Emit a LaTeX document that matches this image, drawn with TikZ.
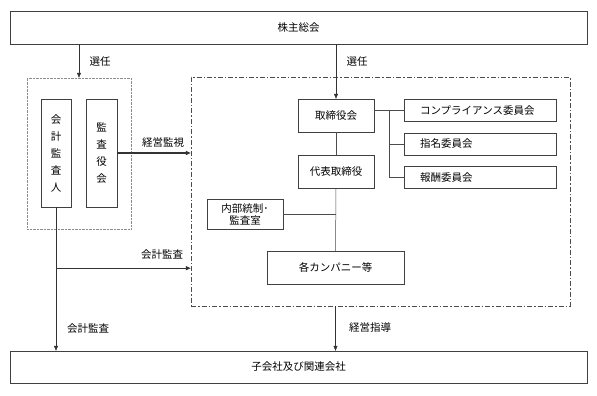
\documentclass[tikz,border=0pt]{standalone}
\usepackage{fontspec}
\setmainfont{Noto Sans CJK JP}
\usetikzlibrary{arrows.meta, positioning, calc}
\tikzset{
  org_box/.style={rectangle, draw=black!75, fill=white, inner sep=0pt, font=\fontsize{10.5}{12}\selectfont},
  wide_box/.style={org_box, minimum width=577pt},
  board_box/.style={org_box, minimum width=76pt, minimum height=33pt},
  committee_box/.style={org_box, minimum height=22pt, text width=120pt, inner xsep=16pt, align=left},
  column_box/.style={org_box, minimum height=108pt, align=center, font=\fontsize{10.5}{17}\selectfont},
  audit_frame/.style={rectangle, draw=black!45, densely dotted, inner sep=0pt},
  mgmt_frame_style/.style={rectangle, draw=black!70, dash pattern=on 5pt off 2pt on 1.5pt off 2pt, inner sep=0pt},
  label_text/.style={font=\fontsize{10.5}{12}\selectfont, inner sep=1pt},
  arrow/.style={-{Triangle[length=5pt, width=4pt]}, black!80, line width=0.5pt},
  thick_arrow/.style={arrow, line width=1.1pt},
  connect/.style={-, black!70, line width=0.5pt}
}

\begin{document}
\begin{tikzpicture}[x=1pt, y=-1pt]
  \useasboundingbox (0,0) rectangle (597,396);

  % --- 1. Top and bottom bars ---
  \node[wide_box, minimum height=33pt] (meeting) at (298.5,27.5) {株主総会};
  \node[wide_box, minimum height=32pt] (subsidiaries) at (298.5,367) {子会社及び関連会社};

  % --- 2. Audit side (left) ---
  \node[audit_frame, minimum width=104pt, minimum height=151pt] (audit_group) at (79,153.5) {};
  \node[column_box, minimum width=30pt] (auditor) at (56,153) {会\\計\\監\\査\\人};
  \node[column_box, minimum width=31pt] (kansayaku) at (101.5,153) {監\\査\\役\\会};

  % --- 3. Management frame (right) ---
  \node[mgmt_frame_style, minimum width=379pt, minimum height=229pt] (mgmt_frame) at (380.5,191.5) {};
  \node[board_box] (board) at (336,115.5) {取締役会};
  \node[board_box, below=23pt of board] (ceo) {代表取締役};
  \node[committee_box] (compliance) at (480,110.5) {コンプライアンス委員会};
  \node[committee_box, below=11pt of compliance] (nomination) {指名委員会};
  \node[committee_box, below=11pt of nomination] (remuneration) {報酬委員会};
  \node[org_box, minimum width=76pt, minimum height=30pt, align=center] (internal) at (245,214) {内部統制･\\監査室};
  \node[org_box, minimum width=137pt, minimum height=33pt] (companies) at (335.5,267.5) {各カンパニー等};

  % --- 4. Lines inside the frame ---
  \draw[connect] (board.south) -- (ceo.north);
  \draw[connect] (ceo.south) -- (companies.north);
  \draw[connect] (internal.east) -- (internal.east -| ceo.south);
  \draw[connect] (board.east |- compliance.west) -- (compliance.west);
  \coordinate (branch) at ($(board.east |- compliance.west)+(15,0)$);
  \draw[connect] (branch) |- (nomination.west);
  \draw[connect] (branch) |- (remuneration.west);

  % --- 5. Main flow arrows ---
  \draw[arrow] (meeting.south -| audit_group.north) -- (audit_group.north);
  \node[label_text] (elect_a) at (100,62) {選任};
  \draw[arrow] (meeting.south -| board.north) -- (board.north);
  \node[label_text] (elect_b) at (357,62) {選任};

  \draw[thick_arrow] (kansayaku.east) -- (kansayaku.east -| mgmt_frame.west);
  \node[label_text] (supervise) at (163,143) {経営監視};

  \draw[arrow] (auditor.south) -- (auditor.south |- subsidiaries.north);
  \path (auditor.south) ++(0,61) coordinate (audit_split);
  \draw[thick_arrow] (audit_split) -- (audit_split -| mgmt_frame.west);
  \node[label_text] (audit_a) at (162,255) {会計監査};
  \node[label_text] (audit_b) at (88,329) {会計監査};

  \draw[arrow] (companies.south |- mgmt_frame.south) -- (companies.south |- subsidiaries.north);
  \node[label_text] (guidance) at (370,328) {経営指導};
\end{tikzpicture}
\end{document}
